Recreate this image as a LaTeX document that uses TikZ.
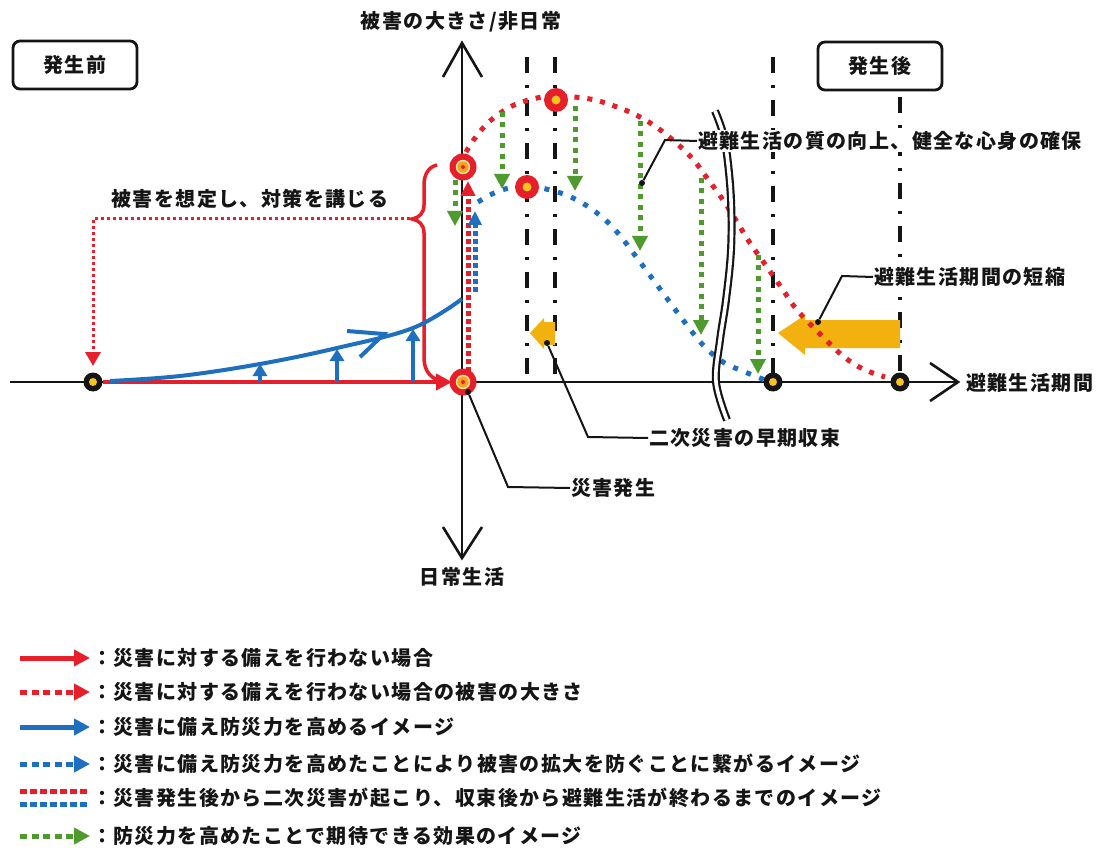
\documentclass[tikz,border=0pt]{standalone}
\usepackage{fontspec}
\newfontfamily\jp{Noto Sans CJK JP}[LetterSpace=7]
\usetikzlibrary{arrows.meta}
\definecolor{rd}{HTML}{E5202B}
\definecolor{bl}{HTML}{1E6FC0}
\definecolor{gn}{HTML}{4F9A2E}
\definecolor{yl}{HTML}{F2B10E}
\definecolor{ink}{HTML}{151515}
\definecolor{orin}{HTML}{F6A31E}
\definecolor{ylc}{HTML}{F8C31C}
\tikzset{
  lab/.style={font=\jp\bfseries\fontsize{20}{22}\selectfont, text=ink, inner sep=1pt},
  labw/.style={lab, fill=white},
  phasebox/.style={lab, draw=ink, line width=2.8pt, rounded corners=7pt, minimum width=124pt, minimum height=48pt},
  axisline/.style={ink, line width=2.4pt},
  chevron/.style={ink, line width=2.6pt},
  dashdot/.style={ink, line width=4pt, dash pattern=on 16pt off 12pt on 3pt off 12pt},
  reddots/.style={rd, line width=5pt, dash pattern=on 5pt off 8pt},
  bluedots/.style={bl, line width=5pt, dash pattern=on 5pt off 9pt},
  greenarrow/.style={gn, line width=5pt, dash pattern=on 5pt off 5.5pt, -{Triangle[length=15pt,width=15pt]}},
  leader/.style={ink, line width=2pt},
  tipdot/.style={circle, fill=ink, minimum size=6pt, inner sep=0pt},
  blackdot/.style={circle, fill=ink, minimum size=19pt, inner sep=0pt},
  ycenter/.style={circle, fill=ylc, minimum size=8pt, inner sep=0pt},
  target/.style={circle, fill=rd, minimum size=27pt, inner sep=0pt},
  targetin/.style={circle, fill=orin, draw=ylc!40!white, line width=1.4pt, minimum size=13pt, inner sep=0pt},
  targetc/.style={circle, fill=rd, minimum size=4pt, inner sep=0pt},
  peak/.style={circle, fill=rd, minimum size=24pt, inner sep=0pt},
  peakin/.style={circle, fill=ylc, minimum size=9pt, inner sep=0pt},
  legtext/.style={lab, anchor=west},
  uparrow/.style={bl, line width=4pt, -{Triangle[length=12pt,width=14pt]}},
}
\begin{document}
\begin{tikzpicture}[x=1pt,y=-1pt]
\useasboundingbox (0,0) rectangle (1105,850);
\fill[white] (0,0) rectangle (1105,850);

% ---------- axes ----------
\coordinate (xL) at (10,382);
\coordinate (xR) at (958,382);
\coordinate (yT) at (462,43);
\coordinate (yB) at (462,558);
\draw[axisline] (xL) -- (xR);
\draw[chevron] (930,363) -- (xR) -- (930,401);
\draw[axisline] (yT) -- (yB);
\draw[chevron] (443,77) -- (yT) -- (482,77);
\draw[chevron] (443,527) -- (yB) -- (482,527);

% ---------- dash-dot verticals ----------
\draw[dashdot] (527,57) -- (527,382);
\draw[dashdot] (555,57) -- (555,382);
\draw[dashdot] (773,57) -- (773,382);
\draw[dashdot] (900,97) -- (900,382);

% ---------- yellow arrows ----------
\fill[yl] (778,333) -- (805,315) -- (805,320) -- (900,320) -- (900,348) -- (805,348) -- (805,355) -- cycle;
\fill[yl] (530,333) -- (544,318) -- (544,322) -- (555,322) -- (555,345) -- (544,345) -- (544,349) -- cycle;

% ---------- damage curves ----------
\draw[reddots] plot[smooth, tension=0.6] coordinates {(466,152) (475,138) (490,121) (512,106) (537,98) (556,96) (590,99) (617,107) (640,117) (663,132) (690,156) (707,178) (723,200) (737,222) (750,243) (767,267) (783,290) (797,310) (820,334) (843,356) (863,369) (885,377)};
\draw[bluedots] plot[smooth, tension=0.6] coordinates {(478,202) (490,195) (505,189) (527,186) (550,190) (573,198) (597,213) (617,232) (640,262) (663,293) (683,320) (703,345) (723,362) (745,372) (765,380)};

% ---------- green effect arrows ----------
\draw[greenarrow] (455,180) -- (455,226);
\draw[greenarrow] (502,112) -- (502,189);
\draw[greenarrow] (575,106) -- (575,191);
\draw[greenarrow] (640,121) -- (640,251);
\draw[greenarrow] (701,178) -- (701,335);
\draw[greenarrow] (758,255) -- (758,374);

% ---------- left part ----------
\draw[rd, line width=3pt, dash pattern=on 3pt off 3pt, -{Triangle[length=14pt,width=15pt]}] (410,219) -- (93,219) -- (93,366);
\draw[rd, line width=3.5pt] (437,165) .. controls (428,167) and (424,175) .. (424,185) -- (424,205) .. controls (424,213) and (419,218) .. (412,219) .. controls (419,220) and (424,225) .. (424,233) -- (424,358) .. controls (424,372) and (432,380) .. (445,382);
\node[blackdot] (d0) at (93,382) {};
\draw[rd, line width=4.5pt, -{Triangle[length=16pt,width=16pt]}] (d0.east) -- (452,382);
\draw[bl, line width=4pt] plot[smooth, tension=0.6] coordinates {(110,381) (180,376) (260,364) (337,348) (413,328) (462,299)};
\draw[bl, line width=4pt, line join=miter] (347,331) -- (384,334) -- (360,357);
\draw[uparrow] (260,382) -- (260,364);
\draw[uparrow] (337,382) -- (337,349);
\draw[uparrow] (413,382) -- (413,329);

% ---------- vertical dotted arrows at the event ----------
\draw[rd, line width=5pt, dash pattern=on 5pt off 3pt, -{Triangle[length=15pt,width=14pt]}] (468,372) -- (468,181);
\draw[bl, line width=5pt, dash pattern=on 5pt off 3pt, -{Triangle[length=14pt,width=13pt]}] (475,292) -- (475,211);

% ---------- break mark ----------
\draw[ink, line width=8pt] plot[smooth, tension=0.6] coordinates {(715,111) (722,130) (727,155) (731,200) (731,250) (726,300) (720,340) (716,382) (727,420)};
\draw[white, line width=3.6pt] plot[smooth, tension=0.6] coordinates {(715,111) (722,130) (727,155) (731,200) (731,250) (726,300) (720,340) (716,382) (727,420)};

% ---------- markers ----------
\node[blackdot] (d1) at (773,382) {};
\node[blackdot] (d2) at (900,382) {};
\foreach \d in {d0,d1,d2} \node[ycenter] at (\d) {};
\node[target] (t1) at (463,167) {};
\node[target] (t2) at (463,382) {};
\foreach \t in {t1,t2} {\node[targetin] at (\t) {}; \node[targetc] at (\t) {};}
\node[peak] (p1) at (556,100) {};
\node[peak] (p2) at (527,187) {};
\foreach \p in {p1,p2} \node[peakin] at (\p) {};

% ---------- labels ----------
\node[lab] (ytop) at (461,22) {被害の大きさ/非日常};
\node[lab] (ybot) at (462,577) {日常生活};
\node[phasebox] (pre) at (75,65) {発生前};
\node[phasebox] (post) at (880,66) {発生後};
\node[lab, anchor=west] (xlab) at (965,383) {避難生活期間};
\node[lab] (prep) at (250,199) {被害を想定し、対策を講じる};

\node[tipdot] (l1) at (642,183) {};
\node[labw, anchor=west] (q1) at (697,141) {避難生活の質の向上、健全な心身の確保};
\draw[leader] (l1) -- (665,140) -- (q1.west);

\node[tipdot] (l2) at (818,322) {};
\node[labw, anchor=west] (q2) at (873,277) {避難生活期間の短縮};
\draw[leader] (l2) -- (842,276) -- (q2.west);

\node[tipdot] (l3) at (547,343) {};
\node[lab, anchor=west] (q3) at (648,438) {二次災害の早期収束};
\draw[leader] (l3) -- (588,437) -- (q3.west);

\node[tipdot] (l4) at (468,392) {};
\node[lab, anchor=west] (q4) at (570,488) {災害発生};
\draw[leader] (l4) -- (508,487) -- (q4.west);

% ---------- legend ----------
\coordinate (a1) at (20,658); \coordinate (b1) at (90,658);
\coordinate (a2) at (20,692); \coordinate (b2) at (90,692);
\coordinate (a3) at (20,727); \coordinate (b3) at (90,727);
\coordinate (a4) at (20,764); \coordinate (b4) at (90,764);
\coordinate (a5) at (20,791); \coordinate (b5) at (90,791);
\coordinate (a5b) at (20,804); \coordinate (b5b) at (90,804);
\coordinate (a6) at (20,836); \coordinate (b6) at (90,836);
\draw[rd, line width=5pt, -{Triangle[length=16pt,width=16pt]}] (a1) -- (b1);
\draw[rd, line width=5pt, dash pattern=on 7pt off 4.5pt, -{Triangle[length=16pt,width=16pt]}] (a2) -- (b2);
\draw[bl, line width=5pt, -{Triangle[length=16pt,width=16pt]}] (a3) -- (b3);
\draw[bl, line width=5pt, dash pattern=on 7pt off 4.5pt, -{Triangle[length=16pt,width=16pt]}] (a4) -- (b4);
\draw[rd, line width=5pt, dash pattern=on 7pt off 3pt] (a5) -- (b5);
\draw[bl, line width=5pt, dash pattern=on 7pt off 3pt] (a5b) -- (b5b);
\draw[gn, line width=5pt, dash pattern=on 7pt off 4.5pt, -{Triangle[length=16pt,width=16pt]}] (a6) -- (b6);
\node[legtext] (g1) at (91,658) {：災害に対する備えを行わない場合};
\node[legtext] (g2) at (91,692) {：災害に対する備えを行わない場合の被害の大きさ};
\node[legtext] (g3) at (91,727) {：災害に備え防災力を高めるイメージ};
\node[legtext] (g4) at (91,764) {：災害に備え防災力を高めたことにより被害の拡大を防ぐことに繋がるイメージ};
\node[legtext] (g5) at (91,798) {：災害発生後から二次災害が起こり、収束後から避難生活が終わるまでのイメージ};
\node[legtext] (g6) at (91,836) {：防災力を高めたことで期待できる効果のイメージ};
\end{tikzpicture}
\end{document}
